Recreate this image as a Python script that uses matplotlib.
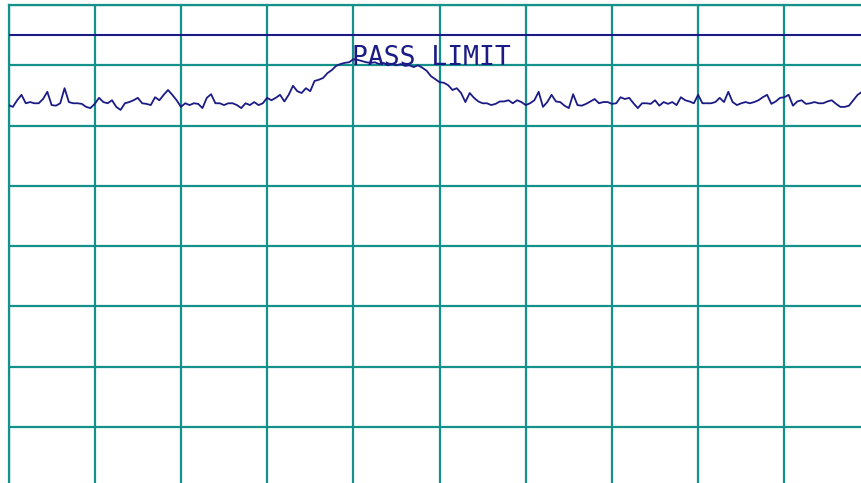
import numpy as np
import matplotlib
matplotlib.use('Agg')
import matplotlib.pyplot as plt

# sweep: 0..100 MHz, 201 points
start_mhz = 0.0
stop_mhz = 100.0
levels_db = [
    -16.6, -16.9, -15.8, -14.9, -16.3, -16.1, -16.3, -16.3, -15.6, -14.4,
    -16.6, -16.7, -16.3, -13.8, -16.1, -16.3, -16.3, -16.4, -16.9, -17.1,
    -16.4, -15.4, -16.1, -16.3, -15.8, -16.9, -17.4, -16.3, -16.1, -15.8,
    -15.4, -16.3, -16.4, -16.6, -15.3, -15.8, -14.9, -14.1, -14.9, -15.8,
    -16.9, -16.3, -16.6, -16.3, -16.4, -17.1, -15.4, -14.8, -16.3, -16.3,
    -16.6, -16.3, -16.3, -16.6, -17.1, -16.3, -16.6, -16.1, -16.6, -16.3,
    -15.4, -15.8, -15.4, -14.9, -16.0, -14.9, -13.4, -14.3, -14.6, -13.8,
    -14.3, -12.6, -12.4, -12.1, -11.3, -10.8, -10.1, -9.8, -9.6, -9.5,
    -9.0, -9.1, -9.3, -9.5, -9.6, -9.5, -9.8, -9.6, -10.0, -9.8,
    -10.0, -9.8, -10.1, -10.0, -10.3, -10.0, -10.4, -10.9, -11.8, -12.3,
    -12.8, -12.9, -13.3, -14.1, -13.8, -14.6, -16.1, -14.6, -15.4, -16.0,
    -16.3, -16.3, -16.6, -16.4, -16.0, -16.0, -15.8, -16.3, -15.8, -16.1,
    -16.6, -16.3, -15.8, -14.4, -16.9, -16.1, -14.9, -16.0, -16.1, -16.7,
    -17.1, -14.8, -16.6, -16.7, -16.4, -16.0, -15.6, -16.3, -16.1, -16.1,
    -16.4, -16.3, -15.3, -15.6, -15.4, -16.3, -17.1, -16.3, -16.3, -16.4,
    -15.8, -16.7, -16.1, -16.4, -16.1, -16.6, -15.3, -15.8, -16.0, -16.3,
    -14.9, -16.3, -16.3, -16.3, -16.1, -15.4, -16.1, -14.4, -16.1, -16.6,
    -16.3, -16.1, -16.3, -16.1, -15.8, -15.3, -14.9, -16.4, -16.0, -15.4,
    -15.3, -14.9, -16.7, -16.0, -15.8, -16.4, -16.3, -16.1, -16.3, -16.3,
    -16.0, -15.8, -16.4, -16.9, -16.9, -16.7, -15.8, -14.9, -14.4, -14.9,
    -15.4,
]
freqs_mhz = np.linspace(start_mhz, stop_mhz, len(levels_db))

limit_db = -5.0
limit_label = 'PASS LIMIT'
ref_level = 0
db_per_div = 10
n_ydiv = 8

grid_col = '#14918b'
trace_col = '#1b1b86'

fig = plt.figure(figsize=(8.62, 4.83), dpi=100)
ax = fig.add_axes([0.0099, -0.0091, 1.0, 0.9988])

ax.plot(freqs_mhz, levels_db, color=trace_col, lw=1.3, zorder=3)
ax.axhline(limit_db, color=trace_col, lw=1.5, zorder=3)
ax.text(39.8, -10.0, limit_label, color=trace_col, fontsize=19,
        family='DejaVu Sans Mono', ha='left', va='baseline', zorder=4)

ax.set_xlim(start_mhz, stop_mhz)
ax.set_ylim(ref_level - n_ydiv * db_per_div, ref_level)
ax.set_xticks(np.arange(start_mhz, stop_mhz + 1, 10))
ax.set_yticks(np.arange(ref_level - n_ydiv * db_per_div, ref_level + 1, db_per_div))
ax.grid(True, color=grid_col, lw=1.6, zorder=1)
ax.tick_params(length=0, labelleft=False, labelbottom=False)
for s in ax.spines.values():
    s.set_color(grid_col)
    s.set_linewidth(1.6)

fig.savefig('out.png', dpi=100)
